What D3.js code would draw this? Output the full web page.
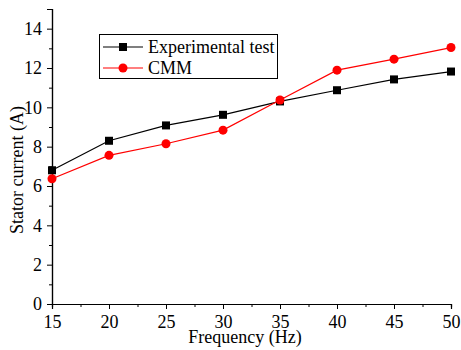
<!DOCTYPE html>
<html>
<head>
<meta charset="utf-8">
<script src="https://cdn.jsdelivr.net/npm/d3@7"></script>
<style>
  body { margin: 0; background: #fff; }
  text { font-family: "Liberation Serif", "Times New Roman", serif; }
</style>
</head>
<body>
<script>
// values
var freq = [15, 20, 25, 30, 35, 40, 45, 50];
var expTest = [6.8, 8.3, 9.08, 9.62, 10.3, 10.87, 11.42, 11.82];
var cmm = [6.37, 7.56, 8.15, 8.84, 10.37, 11.89, 12.45, 13.04];
var xTicks = [15, 20, 25, 30, 35, 40, 45, 50];
var yTicks = [0, 2, 4, 6, 8, 10, 12, 14];

var width = 461, height = 350;
var margin = {left: 52, top: 9};

var svg = d3.select("body").append("svg")
    .attr("width", width)
    .attr("height", height);

var x = d3.scaleLinear().domain([15, 50]).range([margin.left, 451]);
var y = d3.scaleLinear().domain([0, 15]).range([304, margin.top]);

// x axis, minor ticks then major
var gx = svg.append("g").attr("transform", "translate(0,304)");
gx.call(d3.axisBottom(x).tickValues(d3.range(17.5, 50, 5)).tickSize(3).tickFormat(""));
gx.append("g").call(d3.axisBottom(x).tickValues(xTicks).tickSize(5).tickPadding(6));

var gy = svg.append("g").attr("transform", "translate(" + margin.left + ",0)");
gy.call(d3.axisLeft(y).tickValues(d3.range(1, 15, 2)).tickSize(3).tickFormat(""));
gy.append("g").call(d3.axisLeft(y).tickValues(yTicks).tickSize(5).tickPadding(5));

svg.selectAll(".domain").attr("stroke", "#000").attr("stroke-width", 1.2);
svg.selectAll(".tick line").attr("stroke", "#000");
svg.selectAll(".tick text")
    .attr("fill", "#000")
    .style("font-size", "18px")
    .style("font-family", "Liberation Serif, serif");

svg.append("text")
    .attr("x", 245)
    .attr("y", 342.5)
    .attr("text-anchor", "middle")
    .style("font-size", "18px")
    .text("Frequency (Hz)");

svg.append("text")
    .attr("transform", "translate(23,170) rotate(-90)")
    .attr("text-anchor", "middle")
    .style("font-size", "18px")
    .text("Stator current (A)");

var line = d3.line()
    .x(function(d, i) { return x(freq[i]); })
    .y(function(d) { return y(d); });

svg.append("path").datum(expTest)
    .attr("d", line).attr("fill", "none").attr("stroke", "#000").attr("stroke-width", 1.2);
svg.append("path").datum(cmm)
    .attr("d", line).attr("fill", "none").attr("stroke", "#ff0000").attr("stroke-width", 1.2);

svg.append("g").selectAll("rect").data(expTest).enter().append("rect")
    .attr("x", function(d, i) { return x(freq[i]) - 4; })
    .attr("y", function(d) { return y(d) - 4; })
    .attr("width", 8).attr("height", 8)
    .attr("fill", "#000");

svg.append("g").selectAll("circle").data(cmm).enter().append("circle")
    .attr("cx", function(d, i) { return x(freq[i]); })
    .attr("cy", function(d) { return y(d); })
    .attr("r", 4.5)
    .attr("fill", "#ff0000");

// legend
var lg = svg.append("g");
lg.append("rect").attr("x", 99.5).attr("y", 34.5).attr("width", 178).attr("height", 44)
    .attr("fill", "#fff").attr("stroke", "#000").attr("stroke-width", 1);
lg.append("line").attr("x1", 103).attr("x2", 143).attr("y1", 47).attr("y2", 47)
    .attr("stroke", "#000").attr("stroke-width", 1.2);
lg.append("rect").attr("x", 119).attr("y", 43).attr("width", 8).attr("height", 8).attr("fill", "#000");
lg.append("text").attr("x", 148).attr("y", 53).style("font-size", "18px").text("Experimental test");
lg.append("line").attr("x1", 103).attr("x2", 143).attr("y1", 68).attr("y2", 68)
    .attr("stroke", "#ff0000").attr("stroke-width", 1.2);
lg.append("circle").attr("cx", 123).attr("cy", 68).attr("r", 4.5).attr("fill", "#ff0000");
lg.append("text").attr("x", 148).attr("y", 74).style("font-size", "18px").text("CMM");
</script>
</body>
</html>
